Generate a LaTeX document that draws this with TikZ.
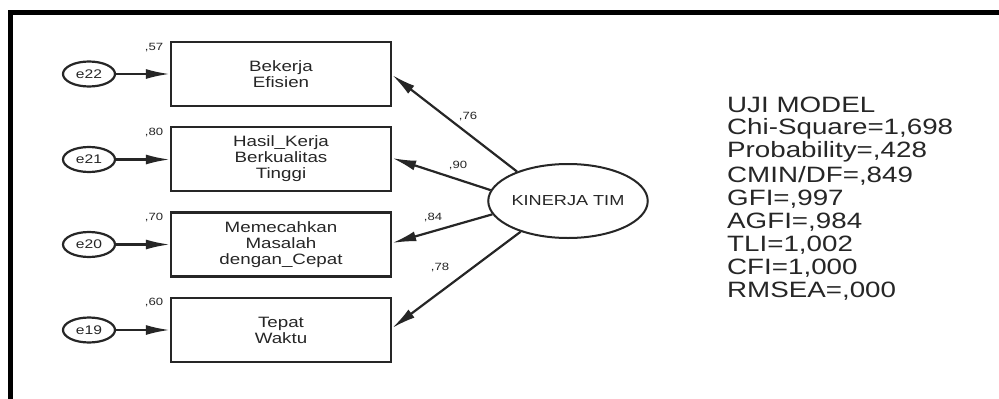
\documentclass[tikz,border=0pt]{standalone}
\usepackage{fontspec}
\setmainfont{Liberation Sans}[FakeStretch=1.25]
\usetikzlibrary{arrows.meta,shapes.geometric}
\definecolor{ink}{gray}{0.15}
\tikzset{
  obsbox/.style={draw=ink, line width=2.4pt, rectangle, minimum width=220pt, minimum height=64pt,
    inner sep=0pt, align=center, font=\fontsize{15}{16}\selectfont, text=ink},
  errnode/.style={draw=ink, line width=2.2pt, ellipse, minimum width=52pt, minimum height=25pt,
    inner sep=0pt, font=\fontsize{12.5}{14}\selectfont, text=ink},
  latent/.style={draw=ink, line width=2pt, ellipse, minimum width=143pt, minimum height=74pt,
    inner sep=0pt, font=\fontsize{14.5}{16}\selectfont, text=ink},
  wlabel/.style={font=\fontsize{10.5}{11}\selectfont, text=ink, inner sep=0pt},
  path/.style={draw=ink, line width=2.2pt, -{Latex[length=24pt,width=10pt]}},
  fitline/.style={font=\fontsize{22.2}{23.1}\selectfont, text=ink, inner sep=0pt, anchor=west},
}
\begin{document}
\begin{tikzpicture}[x=1pt,y=-1pt]
\useasboundingbox (0,0) rectangle (999,399);
\fill[white] (0,0) rectangle (999,399);
% frame: top and left edges
\draw[line width=5pt, black] (10.5,399) -- (10.5,12.5) -- (999,12.5);

% observed indicators
\node[obsbox] (b1) at (281,74)  {Bekerja\\Efisien};
\node[obsbox] (b2) at (281,159) {Hasil\_Kerja\\Berkualitas\\Tinggi};
\node[obsbox] (b3) at (281,244.5) {Memecahkan\\Masalah\\dengan\_Cepat};
\node[obsbox] (b4) at (281,330) {Tepat\\Waktu};

% error terms
\node[errnode] (e22) at (89,74)  {e22};
\node[errnode] (e21) at (89,159.5) {e21};
\node[errnode] (e20) at (89,244.5) {e20};
\node[errnode] (e19) at (89,330) {e19};

% squared multiple correlations
\node[wlabel] (r1) at (154,48)  {,57};
\node[wlabel] (r2) at (154,133) {,80};
\node[wlabel] (r3) at (154,218) {,70};
\node[wlabel] (r4) at (154,303) {,60};

% latent factor
\node[latent] (kt) at (568,201) {KINERJA TIM};

% error paths
\draw[path] (e22) -- (b1.west);
\draw[path] (e21) -- (b2.west |- e21);
\draw[path] (e20) -- (b3.west);
\draw[path] (e19) -- (b4.west);

% loadings
\coordinate (t1) at (b1.east |- 0,75);
\coordinate (t2) at (b2.east |- 0,158);
\coordinate (t3) at (b3.east |- 0,243);
\coordinate (t4) at (b4.east |- 0,328);
\draw[path] (kt.150) -- (t1);
\draw[path] (kt.172) -- (t2);
\draw[path] (kt.190) -- (t3);
\draw[path] (kt.213) -- (t4);
\node[wlabel] (l1) at (468,117) {,76};
\node[wlabel] (l2) at (458,166) {,90};
\node[wlabel] (l3) at (433,218) {,84};
\node[wlabel] (l4) at (440,268) {,78};

% fit indices
\node[fitline] (f1) at (727,105) {UJI MODEL};
\node[fitline] (f2) at (727,128.5) {Chi-Square=1,698};
\node[fitline] (f3) at (727,152) {Probability=,428};
\node[fitline] (f4) at (727,175.5) {CMIN/DF=,849};
\node[fitline] (f5) at (727,199) {GFI=,997};
\node[fitline] (f6) at (727,222) {AGFI=,984};
\node[fitline] (f7) at (727,245) {TLI=1,002};
\node[fitline] (f8) at (727,268) {CFI=1,000};
\node[fitline] (f9) at (727,291) {RMSEA=,000};
\end{tikzpicture}
\end{document}
